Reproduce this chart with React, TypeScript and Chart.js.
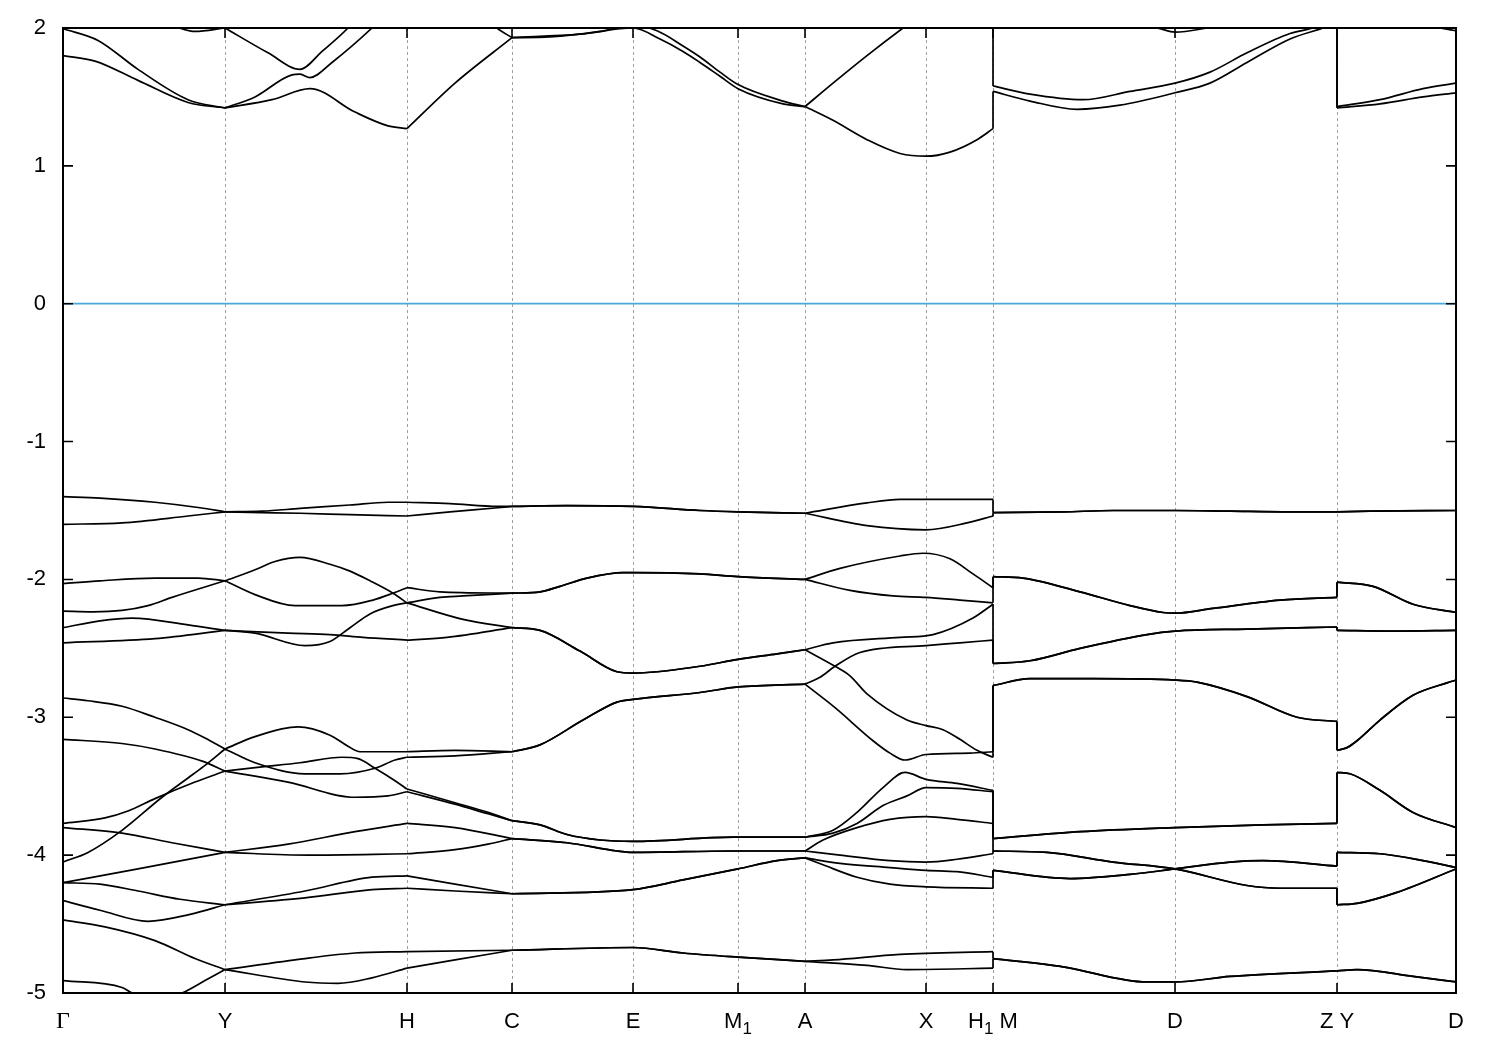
import React, { useEffect, useRef } from "react";
import { Chart, registerables } from "chart.js";

Chart.register(...registerables);

type Pt = [number, number];

// ---- axes -------------------------------------------------------------
const kTicks = [0, 1.62, 3.44, 4.49, 5.7, 6.75, 7.42, 8.63, 9.3, 11.12, 12.74, 13.93];
const kLabels = ["Γ", "Y", "H", "C", "E", "M₁", "A", "X", "H₁ M", "D", "Z Y", "D"];
const energyMin = -5;
const energyMax = 2;
const fermiLevel = 0;
// path breaks (H1|M and Z|Y)
const kBreaks = [kTicks[8], kTicks[10]];
// points where degenerate bands meet (corners allowed)
const kCorners = [kTicks[1], kTicks[2], kTicks[3], kTicks[6]];

// ---- piece 1 : Γ → H1, conduction bands --------------------------------
const cb1: Pt[] = [[0, 1.8], [0.32, 1.76], [0.75, 1.62], [1.25, 1.46], [1.62, 1.42], [2.09, 1.48], [2.47, 1.56], [2.92, 1.39], [3.25, 1.29], [3.44, 1.27], [3.92, 1.6], [4.49, 1.93], [5.17, 1.955], [5.7, 2.0], [5.97, 1.92], [6.2, 1.83], [6.37, 1.75], [6.57, 1.65], [6.75, 1.56], [7.2, 1.45], [7.42, 1.43], [7.7, 1.33], [8.04, 1.19], [8.37, 1.09], [8.63, 1.07], [8.87, 1.1], [9.14, 1.19], [9.3, 1.27]];
const cb2: Pt[] = [[0, 1.995], [0.35, 1.91], [0.75, 1.7], [1.25, 1.48], [1.62, 1.42], [1.92, 1.5], [2.29, 1.66], [2.37, 1.665], [2.47, 1.64], [2.69, 1.75], [3.09, 2.0], [3.5, 2.3], [4.0, 2.25], [4.34, 2.0], [4.49, 1.93], [4.87, 1.935], [5.37, 1.975], [5.7, 2.02], [5.94, 1.98], [6.2, 1.87], [6.37, 1.79], [6.57, 1.68], [6.75, 1.59], [7.2, 1.47], [7.42, 1.43], [7.7, 1.6], [8.04, 1.8], [8.4, 2.0], [8.63, 2.12], [9.3, 2.35]];
const cb3: Pt[] = [[0, 2.1], [1.07, 2.02], [1.32, 1.975], [1.62, 2.0], [2.05, 1.82], [2.37, 1.7], [2.59, 1.83], [2.85, 2.0], [3.2, 2.3], [4.0, 2.45], [9.3, 2.45]];

// ---- piece 1 : valence segments -------------------------------------
// Γ–Y
const gyV1: Pt[] = [[0, -1.4], [0.37, -1.41], [0.92, -1.44], [1.37, -1.48], [1.62, -1.51]];
const gyV2: Pt[] = [[0, -1.6], [0.59, -1.59], [1.25, -1.54], [1.62, -1.51]];
const gyB3: Pt[] = [[0, -2.03], [0.37, -2.01], [0.92, -1.99], [1.35, -1.99], [1.62, -2.01]];
const gyB4: Pt[] = [[0, -2.23], [0.3, -2.235], [0.59, -2.225], [0.85, -2.19], [1.09, -2.13], [1.62, -2.01]];
const gyB5: Pt[] = [[0, -2.35], [0.37, -2.3], [0.69, -2.28], [1.25, -2.33], [1.62, -2.37]];
const gyB6: Pt[] = [[0, -2.46], [0.92, -2.43], [1.62, -2.37]];
const gyG7: Pt[] = [[0, -2.86], [0.25, -2.88], [0.59, -2.92], [0.92, -3.0], [1.25, -3.09], [1.42, -3.15], [1.62, -3.23]];
const gyG8: Pt[] = [[0, -4.05], [0.25, -3.98], [0.59, -3.82], [0.99, -3.58], [1.25, -3.44], [1.4, -3.36], [1.62, -3.23]];
const gyG9: Pt[] = [[0, -3.16], [0.59, -3.19], [0.92, -3.23], [1.4, -3.32], [1.62, -3.39]];
const gyG10: Pt[] = [[0, -3.77], [0.42, -3.73], [0.65, -3.68], [0.92, -3.59], [1.32, -3.47], [1.62, -3.39]];
const gyG11: Pt[] = [[0, -3.8], [0.59, -3.84], [1.09, -3.91], [1.62, -3.98]];
const gyG12: Pt[] = [[0, -4.2], [0.75, -4.1], [1.62, -3.98]];
const gyG13: Pt[] = [[0, -4.2], [0.37, -4.21], [0.75, -4.26], [1.17, -4.32], [1.62, -4.36]];
const gyG14: Pt[] = [[0, -4.33], [0.37, -4.4], [0.85, -4.48], [1.27, -4.43], [1.62, -4.36]];
const gyG15: Pt[] = [[0, -4.47], [0.42, -4.52], [0.92, -4.62], [1.32, -4.75], [1.62, -4.83]];
const gyG16: Pt[] = [[0, -4.91], [0.59, -4.96], [0.69, -5.0], [0.92, -5.06], [1.19, -5.0], [1.42, -4.91], [1.62, -4.83]];
// Y–H–C
const ycLow15: Pt[] = [[1.62, -1.51], [1.99, -1.515], [2.37, -1.52], [2.87, -1.53], [3.44, -1.54], [3.87, -1.51], [4.35, -1.48], [4.49, -1.47]];
const ycUp15: Pt[] = [[1.62, -1.51], [1.99, -1.505], [2.37, -1.485], [2.87, -1.46], [3.25, -1.44], [3.44, -1.44], [3.87, -1.45], [4.35, -1.47], [4.49, -1.47]];
const ycDip: Pt[] = [[1.62, -2.01], [1.92, -2.11], [2.32, -2.19], [2.79, -2.19], [3.1, -2.15], [3.3, -2.1], [3.44, -2.06], [3.77, -2.09], [4.49, -2.1]];
const ycHump: Pt[] = [[1.62, -2.01], [1.92, -1.93], [2.12, -1.87], [2.37, -1.84], [2.67, -1.89], [2.87, -1.94], [3.07, -2.01], [3.3, -2.1], [3.44, -2.17], [4.0, -2.29], [4.49, -2.35]];
const ycRise: Pt[] = [[1.62, -2.37], [1.92, -2.39], [2.42, -2.48], [2.67, -2.45], [2.87, -2.35], [3.07, -2.25], [3.3, -2.19], [3.44, -2.17], [3.77, -2.13], [4.0, -2.12], [4.49, -2.1]];
const ycFlat: Pt[] = [[1.62, -2.37], [2.25, -2.39], [2.67, -2.4], [3.0, -2.42], [3.44, -2.44], [3.84, -2.42], [4.49, -2.35]];
const ycL1: Pt[] = [[1.62, -3.23], [1.92, -3.14], [2.35, -3.07], [2.67, -3.13], [2.85, -3.21], [2.97, -3.25], [3.44, -3.25], [3.92, -3.24], [4.49, -3.25]];
const ycL2: Pt[] = [[1.62, -3.23], [1.92, -3.33], [2.42, -3.41], [2.77, -3.41], [3.12, -3.37], [3.32, -3.31], [3.44, -3.29], [3.92, -3.28], [4.49, -3.25]];
const ycL3: Pt[] = [[1.62, -3.39], [1.99, -3.36], [2.37, -3.33], [2.79, -3.29], [2.95, -3.3], [3.12, -3.37], [3.32, -3.46], [3.44, -3.52], [3.92, -3.62], [4.25, -3.69], [4.49, -3.75]];
const ycL4: Pt[] = [[1.62, -3.39], [2.25, -3.47], [2.92, -3.58], [3.25, -3.57], [3.44, -3.54], [3.92, -3.63], [4.25, -3.7], [4.49, -3.75]];
const ycA398: Pt[] = [[1.62, -3.98], [2.25, -3.92], [2.92, -3.83], [3.44, -3.77], [3.92, -3.8], [4.49, -3.88]];
const ycB398: Pt[] = [[1.62, -3.98], [2.45, -4.0], [3.44, -3.99], [3.92, -3.96], [4.25, -3.92], [4.49, -3.88]];
const ycA436: Pt[] = [[1.62, -4.36], [2.42, -4.26], [3.09, -4.16], [3.44, -4.15], [3.92, -4.21], [4.49, -4.28]];
const ycB436: Pt[] = [[1.62, -4.36], [2.42, -4.31], [3.09, -4.25], [3.44, -4.24], [3.92, -4.26], [4.49, -4.28]];
const ycA483: Pt[] = [[1.62, -4.83], [2.42, -4.75], [2.92, -4.71], [3.44, -4.7], [4.49, -4.69]];
const ycB483: Pt[] = [[1.62, -4.83], [2.42, -4.92], [2.75, -4.93], [3.09, -4.89], [3.44, -4.82], [3.92, -4.76], [4.49, -4.69]];
// C–E–M1–A
const ca147: Pt[] = [[4.49, -1.47], [5.04, -1.465], [5.7, -1.47], [6.37, -1.5], [6.75, -1.51], [7.42, -1.52]];
const ca210: Pt[] = [[4.49, -2.1], [4.77, -2.09], [4.97, -2.05], [5.24, -1.99], [5.6, -1.95], [5.7, -1.95], [6.37, -1.96], [6.75, -1.98], [7.42, -2.0]];
const ca235: Pt[] = [[4.49, -2.35], [4.77, -2.37], [5.17, -2.52], [5.54, -2.67], [5.7, -2.68], [6.37, -2.63], [6.75, -2.58], [7.14, -2.54], [7.42, -2.51]];
const ca325: Pt[] = [[4.49, -3.25], [4.77, -3.2], [5.2, -3.02], [5.54, -2.89], [5.7, -2.87], [6.37, -2.82], [6.75, -2.78], [7.42, -2.76]];
const ca375: Pt[] = [[4.49, -3.75], [4.77, -3.78], [5.04, -3.85], [5.37, -3.89], [5.7, -3.9], [6.7, -3.87], [7.42, -3.87]];
const ca388: Pt[] = [[4.49, -3.88], [5.04, -3.91], [5.54, -3.97], [5.7, -3.98], [6.7, -3.97], [7.42, -3.97]];
const ca428: Pt[] = [[4.49, -4.28], [5.7, -4.25], [6.2, -4.18], [6.75, -4.1], [7.14, -4.04], [7.42, -4.02]];
const ca469: Pt[] = [[4.49, -4.69], [5.7, -4.67], [6.2, -4.71], [6.75, -4.74], [7.42, -4.77]];
// A–X–H1
const ah142: Pt[] = [[7.42, -1.52], [8.04, -1.445], [8.37, -1.42], [8.63, -1.42], [9.17, -1.42], [9.3, -1.42]];
const ah164: Pt[] = [[7.42, -1.52], [8.04, -1.61], [8.63, -1.64], [9.04, -1.59], [9.3, -1.54]];
const ah181: Pt[] = [[7.42, -2.0], [7.77, -1.92], [8.37, -1.83], [8.6, -1.81], [8.87, -1.85], [9.1, -1.96], [9.3, -2.06]];
const ah215: Pt[] = [[7.42, -2.0], [7.87, -2.08], [8.3, -2.12], [8.63, -2.13], [8.97, -2.15], [9.3, -2.17]];
const ah240: Pt[] = [[7.42, -2.51], [7.7, -2.46], [8.37, -2.42], [8.7, -2.4], [9.1, -2.28], [9.3, -2.18]];
const ah306: Pt[] = [[7.42, -2.51], [7.72, -2.63], [7.87, -2.7], [8.04, -2.83], [8.44, -3.02], [8.63, -3.06], [8.8, -3.09], [8.97, -3.16], [9.14, -3.24], [9.3, -3.29]];
const ah248: Pt[] = [[7.42, -2.76], [7.57, -2.71], [7.72, -2.63], [7.97, -2.53], [8.63, -2.48], [8.97, -2.46], [9.3, -2.44]];
const ah326: Pt[] = [[7.42, -2.76], [7.72, -2.93], [8.1, -3.17], [8.27, -3.26], [8.42, -3.31], [8.63, -3.27], [9.07, -3.26], [9.3, -3.25]];
const ah340: Pt[] = [[7.42, -3.87], [7.7, -3.82], [7.94, -3.69], [8.2, -3.51], [8.42, -3.4], [8.63, -3.45], [8.94, -3.48], [9.3, -3.53]];
const ah351: Pt[] = [[7.42, -3.87], [7.7, -3.84], [7.94, -3.77], [8.2, -3.64], [8.44, -3.57], [8.63, -3.51], [8.94, -3.515], [9.3, -3.54]];
const ah372: Pt[] = [[7.42, -3.97], [7.6, -3.89], [7.94, -3.8], [8.27, -3.74], [8.63, -3.72], [8.94, -3.74], [9.3, -3.77]];
const ah405: Pt[] = [[7.42, -3.97], [7.77, -4.0], [8.27, -4.04], [8.63, -4.05], [8.94, -4.03], [9.3, -3.99]];
const ah411: Pt[] = [[7.42, -4.02], [7.77, -4.06], [8.27, -4.09], [8.63, -4.11], [8.94, -4.12], [9.3, -4.16]];
const ah424: Pt[] = [[7.42, -4.02], [7.6, -4.07], [7.94, -4.16], [8.27, -4.21], [8.63, -4.23], [9.3, -4.24]];
const ah472: Pt[] = [[7.42, -4.77], [7.7, -4.76], [8.37, -4.72], [9.3, -4.7]];
const ah483: Pt[] = [[7.42, -4.77], [8.04, -4.8], [8.44, -4.83], [9.3, -4.82]];

// ---- piece 2 : M → Z --------------------------------------------------
const mzC1: Pt[] = [[9.3, 1.54], [9.67, 1.47], [10.14, 1.41], [10.57, 1.44], [11.12, 1.53], [11.47, 1.6], [11.84, 1.75], [12.27, 1.92], [12.6, 2.0], [12.74, 2.04]];
const mzC2: Pt[] = [[9.3, 1.58], [9.67, 1.52], [10.2, 1.48], [10.67, 1.54], [11.12, 1.6], [11.47, 1.68], [11.84, 1.82], [12.27, 1.96], [12.5, 2.0], [12.74, 2.07]];
const mzC3: Pt[] = [[9.3, 2.15], [10.5, 2.03], [10.94, 2.0], [11.12, 1.97], [11.44, 2.0], [11.8, 2.05], [12.74, 2.2]];
const mzV151: Pt[] = [[9.3, -1.515], [10.0, -1.51], [10.5, -1.5], [11.12, -1.5], [11.67, -1.505], [12.27, -1.51], [12.74, -1.51]];
const mzV198: Pt[] = [[9.3, -1.98], [9.6, -1.99], [10.17, -2.09], [10.67, -2.19], [11.0, -2.24], [11.12, -2.245], [11.5, -2.21], [12.17, -2.15], [12.74, -2.13]];
const mzV261: Pt[] = [[9.3, -2.61], [9.67, -2.59], [10.17, -2.5], [10.84, -2.4], [11.12, -2.375], [11.84, -2.36], [12.74, -2.345]];
const mzV277: Pt[] = [[9.3, -2.77], [9.67, -2.72], [10.3, -2.72], [11.12, -2.73], [11.34, -2.745], [11.84, -2.85], [12.34, -3.0], [12.74, -3.03]];
const mzV388: Pt[] = [[9.3, -3.88], [10.17, -3.83], [11.12, -3.8], [12.0, -3.78], [12.74, -3.77]];
const mzV397: Pt[] = [[9.3, -3.97], [9.84, -3.98], [10.5, -4.05], [11.12, -4.1], [11.84, -4.22], [12.17, -4.24], [12.74, -4.24]];
const mzV411: Pt[] = [[9.3, -4.11], [10.07, -4.17], [10.67, -4.14], [11.12, -4.1], [11.67, -4.05], [12.0, -4.04], [12.74, -4.08]];
const mzV475: Pt[] = [[9.3, -4.75], [10.0, -4.81], [10.84, -4.92], [11.12, -4.92], [11.67, -4.88], [12.74, -4.84]];

// ---- piece 3 : Y → D --------------------------------------------------
const ydC1: Pt[] = [[12.74, 1.42], [13.17, 1.45], [13.6, 1.5], [13.93, 1.53]];
const ydC2: Pt[] = [[12.74, 1.43], [13.17, 1.48], [13.6, 1.56], [13.93, 1.6]];
const ydC3: Pt[] = [[12.74, 2.15], [13.5, 2.03], [13.77, 2.0], [13.93, 1.98]];
const ydV151: Pt[] = [[12.74, -1.51], [13.07, -1.505], [13.93, -1.5]];
const ydV202: Pt[] = [[12.74, -2.02], [13.1, -2.05], [13.5, -2.18], [13.93, -2.24]];
const ydV237: Pt[] = [[12.74, -2.37], [13.3, -2.375], [13.93, -2.37]];
const ydV324: Pt[] = [[12.74, -3.24], [12.84, -3.22], [12.94, -3.17], [13.17, -3.02], [13.5, -2.84], [13.84, -2.75], [13.93, -2.73]];
const ydV340: Pt[] = [[12.74, -3.4], [12.87, -3.41], [13.17, -3.53], [13.5, -3.69], [13.93, -3.8]];
const ydV398: Pt[] = [[12.74, -3.98], [13.17, -3.99], [13.6, -4.04], [13.93, -4.09]];
const ydV436: Pt[] = [[12.74, -4.36], [12.94, -4.35], [13.34, -4.27], [13.93, -4.1]];
const ydV484: Pt[] = [[12.74, -4.84], [12.94, -4.83], [13.5, -4.88], [13.93, -4.92]];

// ---- helpers ------------------------------------------------------------
const same = (a: number, b: number) => Math.abs(a - b) < 1e-9;
const chain = (...segs: Pt[][]): Pt[] => {
  const out: Pt[] = [];
  for (const s of segs) for (const p of s) {
    if (out.length && same(out[out.length - 1][0], p[0])) continue;
    out.push(p);
  }
  return out;
};
const splitAtCorners = (pts: Pt[]): Pt[][] => {
  const parts: Pt[][] = [];
  let cur: Pt[] = [];
  pts.forEach((p, i) => {
    cur.push(p);
    if (i > 0 && i < pts.length - 1 && kCorners.some((c) => same(c, p[0]))) {
      parts.push(cur);
      cur = [p];
    }
  });
  if (cur.length > 1) parts.push(cur);
  return parts;
};

const piece1: Pt[][] = [
  cb1, cb2, cb3,
  chain(gyV1, ycLow15, ca147, ah142),
  chain(gyV2, ycUp15, ca147, ah164),
  chain(gyB3, ycDip, ca210, ah181),
  chain(gyB4, ycHump, ca235, ah240),
  chain(gyB5, ycRise, ca210, ah215),
  chain(gyB6, ycFlat, ca235, ah306),
  chain(gyG7, ycL2, ca325, ah248),
  chain(gyG8, ycL1, ca325, ah326),
  chain(gyG9, ycL4, ca375, ah340),
  chain(gyG10, ycL3, ca375, ah351),
  chain(gyG11, ycB398, ca388, ah405),
  chain(gyG12, ycA398, ca388, ah372),
  chain(gyG13, ycB436, ca428, ah424),
  chain(gyG14, ycA436, ca428, ah411),
  chain(gyG15, ycB483, ca469, ah483),
  chain(gyG16, ycA483, ca469, ah472),
];
const doubled = (list: Pt[][]) => list.flatMap((b) => [b, b]);
const piece2: Pt[][] = [mzC1, mzC2, mzC3, ...doubled([mzV151, mzV198, mzV261, mzV277, mzV388, mzV397, mzV411, mzV475])];
const piece3: Pt[][] = [ydC1, ydC2, ydC3, ...doubled([ydV151, ydV202, ydV237, ydV324, ydV340, ydV398, ydV436, ydV484])];

const connectors = (ends: Pt[][], starts: Pt[][], k: number): Pt[][] => {
  const a = ends.map((b) => b[b.length - 1][1]).sort((x, y) => x - y);
  const b = starts.map((s) => s[0][1]).sort((x, y) => x - y);
  return a.map((v, i) => [[k, v], [k, b[i]]] as Pt[]);
};

const toData = (pts: Pt[]) => pts.map(([x, y]) => ({ x, y }));

function buildDatasets() {
  const ds: any[] = [];
  const band = (pts: Pt[]) => ({
    data: toData(pts),
    borderColor: "#000",
    borderWidth: 1.7,
    pointRadius: 0,
    fill: false,
    cubicInterpolationMode: "monotone",
  });
  [piece1, piece2, piece3].forEach((piece) =>
    piece.forEach((b) => splitAtCorners(b).forEach((seg) => ds.push(band(seg))))
  );
  [...connectors(piece1, piece2, kBreaks[0]), ...connectors(piece2, piece3, kBreaks[1])].forEach((c) =>
    ds.push({ ...band(c), cubicInterpolationMode: "default", tension: 0 })
  );
  ds.push({
    data: toData([[kTicks[0], fermiLevel], [kTicks[kTicks.length - 1], fermiLevel]]),
    borderColor: "#4aa8e0",
    borderWidth: 1.7,
    pointRadius: 0,
    tension: 0,
  });
  return ds;
}

const SANS = "'Liberation Sans', Arial, sans-serif";
const SERIF = "'Liberation Serif', 'Times New Roman', serif";

const framePlugin = {
  id: "gnuFrame",
  beforeDatasetsDraw(chart: any) {
    const { ctx, chartArea, scales } = chart;
    ctx.save();
    ctx.strokeStyle = "#a0a0a0";
    ctx.lineWidth = 1;
    ctx.setLineDash([3, 3]);
    kTicks.slice(1, -1).forEach((k) => {
      const px = Math.round(scales.x.getPixelForValue(k)) + 0.5;
      ctx.beginPath();
      ctx.moveTo(px, chartArea.top);
      ctx.lineTo(px, chartArea.bottom);
      ctx.stroke();
    });
    ctx.restore();
  },
  afterDatasetsDraw(chart: any) {
    const { ctx, chartArea, scales } = chart;
    const { left, right, top, bottom } = chartArea;
    const tl = 10;
    ctx.save();
    ctx.strokeStyle = "#000";
    ctx.lineWidth = 1.6;
    ctx.beginPath();
    scales.y.ticks.forEach((t: any) => {
      const py = scales.y.getPixelForValue(t.value);
      ctx.moveTo(left, py);
      ctx.lineTo(left + tl, py);
      ctx.moveTo(right, py);
      ctx.lineTo(right - tl, py);
    });
    kTicks.forEach((k) => {
      const px = scales.x.getPixelForValue(k);
      ctx.moveTo(px, bottom);
      ctx.lineTo(px, bottom - tl);
      ctx.moveTo(px, top);
      ctx.lineTo(px, top + tl);
    });
    ctx.stroke();
    ctx.lineWidth = 2;
    ctx.strokeRect(left, top, right - left, bottom - top);

    // k-point labels with real subscripts
    ctx.fillStyle = "#000";
    ctx.textBaseline = "alphabetic";
    ctx.textAlign = "left";
    const baseY = bottom + 35;
    kLabels.forEach((label, i) => {
      const runs = Array.from(label).map((ch) =>
        ch === "₁"
          ? { t: "1", font: `17px ${SANS}`, dy: 6 }
          : ch === "Γ"
          ? { t: ch, font: `24px ${SERIF}`, dy: 0 }
          : { t: ch, font: `22px ${SANS}`, dy: 0 }
      );
      const widths = runs.map((r) => {
        ctx.font = r.font;
        return ctx.measureText(r.t).width;
      });
      const total = widths.reduce((a, b) => a + b, 0);
      let x = scales.x.getPixelForValue(kTicks[i]) - total / 2;
      runs.forEach((r, j) => {
        ctx.font = r.font;
        ctx.fillText(r.t, x, baseY + r.dy);
        x += widths[j];
      });
    });
    ctx.restore();
  },
};

export default function App() {
  const ref = useRef<HTMLCanvasElement | null>(null);
  useEffect(() => {
    if (!ref.current) return;
    const chart = new Chart(ref.current, {
      type: "line",
      data: { datasets: buildDatasets() },
      options: {
        responsive: false,
        animation: false,
        events: [],
        layout: { padding: { left: 0, right: 44, top: 28, bottom: 0 } },
        plugins: { legend: { display: false }, tooltip: { enabled: false } },
        scales: {
          x: {
            type: "linear",
            min: kTicks[0],
            max: kTicks[kTicks.length - 1],
            grid: { display: false, drawTicks: false },
            border: { display: false },
            afterBuildTicks: (axis: any) => {
              axis.ticks = kTicks.map((v) => ({ value: v }));
            },
            afterFit: (axis: any) => {
              axis.height = 57;
              axis.paddingLeft = 0;
              axis.paddingRight = 0;
            },
            ticks: { display: false, autoSkip: false, maxRotation: 0, minRotation: 0 },
          },
          y: {
            type: "linear",
            min: energyMin,
            max: energyMax,
            grid: { display: false, drawTicks: false },
            border: { display: false },
            afterFit: (axis: any) => {
              axis.width = 63;
              axis.paddingTop = 0;
              axis.paddingBottom = 0;
            },
            ticks: {
              stepSize: 1,
              padding: 17,
              color: "#000",
              font: { family: SANS, size: 22 },
            },
          },
        },
      } as any,
      plugins: [framePlugin],
    });
    return () => chart.destroy();
  }, []);
  return (
    <div style={{ position: "absolute", left: 0, top: 0, width: 1500, height: 1050, background: "#fff" }}>
      <canvas ref={ref} width={1500} height={1050} />
    </div>
  );
}
